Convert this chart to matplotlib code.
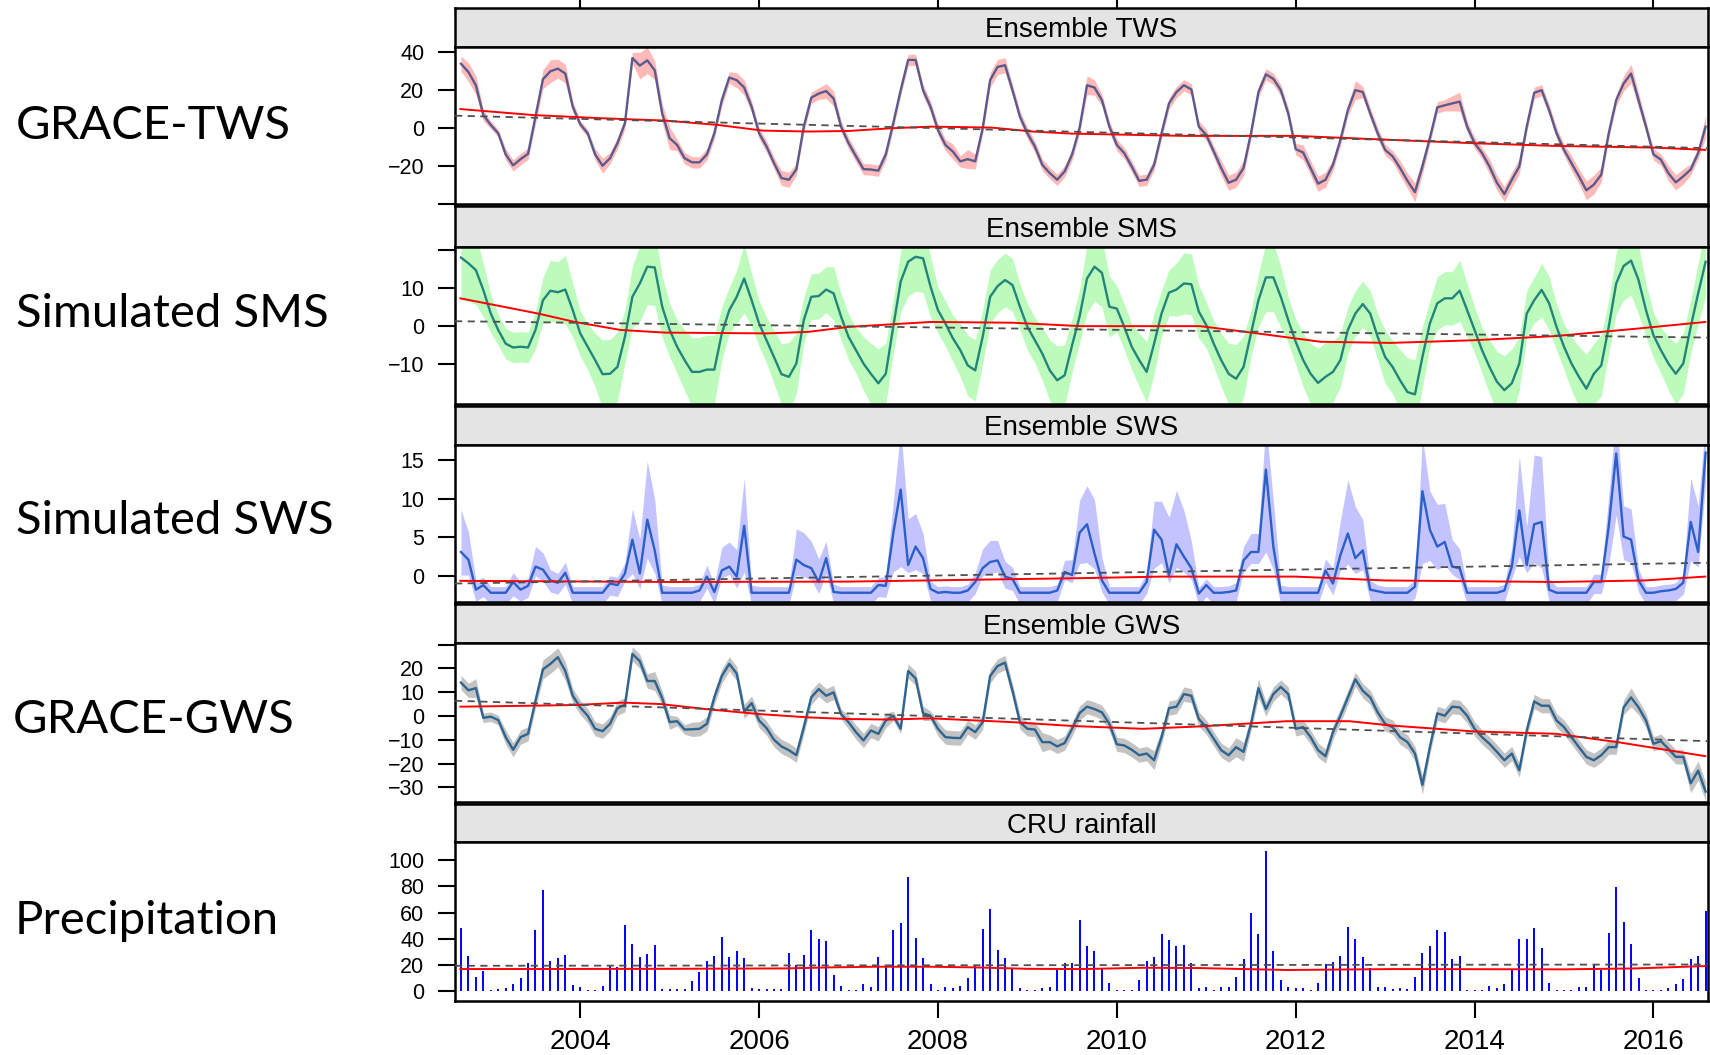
import numpy as np
import pandas as pd
import matplotlib
matplotlib.use("Agg")
import matplotlib.pyplot as plt

plt.rcParams['font.family'] = ['Liberation Sans', 'DejaVu Sans']

# monthly time axis, Sep 2002 - Aug 2016
months = pd.date_range("2002-09-01", periods=168, freq="MS")
t = np.array(months.year + (months.month - 1) / 12.0)

# ---- Ensemble TWS ----
tws = [34, 29.6, 22.6, 6.8, 1.6, -2.8, -14, -19.8, -16.5, -13.7, 6, 25.8,
       30, 31.4, 28.8, 11.2, 2, -2.8, -14, -20, -16, -8, 2.5, 37,
       33, 35.8, 30.5, 7.7, -5.4, -9, -16, -18.2, -18.2, -14, -2.8, 14.7,
       26.7, 25.3, 21.4, 11.2, -2.8, -9.8, -18.6, -26.5, -27.4, -22, 0.7, 16,
       18.2, 19.5, 15.6, 0.7, -8, -15, -21.8, -22, -22.6, -14, 2.5, 20,
       36, 36, 20, 11.2, -1, -9, -12.5, -17.7, -16.5, -17.7, -0.2, 25.3,
       32.3, 33.2, 20, 6, -2.8, -9.8, -19.5, -23.9, -27.4, -23, -14, 0,
       22.6, 21.4, 14.7, 0.7, -9, -13.3, -20.4, -28, -27.4, -19.5, -2.8, 13,
       19, 22.6, 20.4, 0.7, -3.7, -12.5, -21.2, -29, -27.4, -21.2, -2.8, 19,
       28.4, 26, 20, 7.7, -11.2, -13, -21.2, -29.5, -27.4, -19.5, -6.3, 9.5,
       20, 19, 7.7, -2.8, -11.6, -15, -21.2, -28, -34, -20.4, -5.4, 10.9,
       12, 13, 13.9, 0.7, -8, -13.3, -20.4, -29, -35, -27.4, -20.4, 0.7,
       18.6, 20, 9.5, -2.8, -11.6, -18.6, -25.6, -33, -30, -24.7, -2.8, 14.7,
       23.5, 28.8, 14.7, 0.7, -14, -16.8, -23.9, -28.8, -25.6, -22, -13.3, 0.7]
tws_spread = [4, 5, 5, 3, 2, 2, 3, 3, 3, 3, 4, 5,
              6, 5, 5, 3, 2, 2, 3, 4, 3, 3, 3, 3,
              7, 7, 5, 5, 6, 3, 3, 3, 3, 3, 3, 3,
              3, 4, 4, 3, 3, 3, 3, 4, 4, 3, 3, 3,
              3, 4, 4, 3, 3, 3, 3, 3, 3, 3, 3, 3,
              3, 3, 3, 3, 3, 3, 4, 3, 5, 4, 3, 4,
              4, 4, 3, 3, 3, 3, 3, 3, 3, 3, 3, 3,
              5, 4, 3, 3, 3, 3, 3, 3, 3, 3, 3, 3,
              3, 3, 3, 3, 3, 3, 4, 4, 4, 4, 3, 3,
              3, 3, 3, 3, 3, 4, 4, 4, 4, 3, 3, 3,
              5, 3, 3, 3, 3, 3, 4, 4, 5, 4, 3, 3,
              3, 4, 5, 3, 3, 3, 4, 4, 4, 4, 4, 3,
              3, 3, 3, 3, 3, 4, 4, 5, 5, 4, 3, 3,
              4, 5, 4, 3, 3, 3, 4, 4, 4, 3, 3, 6]
tws_smooth_t = [2002.66, 2003.48, 2004.26, 2004.95, 2005.54, 2006.04, 2006.55, 2007.0,
                2007.46, 2007.92, 2008.6, 2009.06, 2009.5, 2010.75, 2012.0, 2013.06,
                2014.0, 2014.9, 2016.0, 2016.58]
tws_smooth_v = [10, 6.8, 5.1, 3.9, 1.6, -1.4, -1.9, -1.6, -0.2, 0.7, 0.2, -1.9, -3.0,
                -4.2, -4.2, -6.3, -8.1, -9.5, -10.4, -11.6]
tws_trend = [6.5, -10.7]

# ---- Ensemble SMS ----
sms = [18, 16.5, 14.7, 9.5, 3.3, -1, -4.6, -5.6, -5.4, -5.6, -1, 6.8,
       9.3, 8.9, 9.6, 4.2, -1.9, -5.4, -8.9, -12.6, -12.5, -10.7, -2.8, 7.7,
       11.2, 15.6, 15.4, 5.1, -1, -5.4, -8.9, -12, -12, -11.4, -11.4, -1.9,
       4.2, 7.7, 12.5, 6.8, 0.7, -3.7, -8.1, -12.6, -13.3, -9.8, 1.6, 7.7,
       7.9, 9.6, 8.6, 2.5, -2.8, -6.3, -9.8, -12.5, -15, -12.5, -0.2, 11.7,
       16.9, 18.2, 17.8, 10.4, 4.2, 0.7, -3.2, -6.3, -10.3, -11.6, -2.8, 7.7,
       10.5, 12.1, 10.8, 5.1, -0.2, -3.7, -7.2, -11.6, -14.2, -12.9, -5, 2.5,
       12.5, 15.6, 14, 5.1, 4.6, -0.2, -5.4, -8.9, -12, -4.6, 3.3, 8.8,
       9.6, 11.2, 11, 3.8, 0.3, -4.6, -8.9, -12.5, -13.8, -10.7, -1.9, 6.8,
       12.8, 12.8, 7.7, 1.6, -4.1, -8.9, -12.5, -14.9, -13.3, -12, -8.9, -1,
       3.3, 5.8, 3.3, -2.8, -8.1, -10.7, -14.2, -17.3, -17.9, -8.1, 0.7, 6,
       7.3, 7.3, 9.3, 4.2, -1, -6.3, -10.7, -14.6, -16.8, -15, -9.8, 3.3,
       6.8, 9.5, 6, -0.2, -5.4, -9.8, -13.3, -16.4, -12.5, -10.3, -0.2, 11.2,
       15.8, 17.2, 12.1, 4.2, -2.4, -6.3, -9.8, -12.5, -9.8, -0.2, 8.6, 16.9]
sms_spread = [11, 10, 9, 7, 5, 4, 4, 4, 4, 4, 5, 6,
              8, 8, 9, 7, 6, 6, 7, 9, 9, 9, 7, 8,
              10, 10, 10, 8, 7, 7, 8, 9, 9, 9, 9, 7,
              6, 7, 9, 7, 6, 6, 7, 8, 9, 8, 6, 6,
              6, 6, 7, 6, 6, 6, 7, 8, 9, 8, 7, 8,
              9, 9, 9, 8, 6, 6, 6, 7, 8, 8, 7, 7,
              7, 7, 7, 6, 6, 6, 7, 8, 9, 8, 7, 7,
              9, 9, 9, 8, 6, 6, 6, 7, 8, 8, 6, 6,
              7, 8, 8, 7, 6, 6, 7, 8, 9, 8, 6, 7,
              9, 9, 8, 6, 6, 7, 8, 9, 9, 8, 7, 6,
              6, 6, 6, 6, 7, 7, 8, 9, 9, 8, 6, 7,
              7, 7, 8, 7, 6, 6, 7, 8, 9, 9, 7, 6,
              6, 7, 7, 6, 6, 7, 8, 9, 8, 8, 7, 8,
              9, 9, 9, 7, 6, 6, 7, 8, 8, 7, 8, 9]
sms_smooth_t = [2002.66, 2003.53, 2003.94, 2004.45, 2004.95, 2006.09, 2006.55, 2007.0,
                2007.92, 2008.83, 2009.6, 2010.93, 2011.44, 2012.28, 2013.06, 2013.99,
                2014.91, 2015.84, 2016.58]
sms_smooth_v = [7.3, 3.3, 1.1, -1, -1.7, -1.9, -1.5, -0.2, 1.1, 0.9, 0, 0, -1.5, -4.1,
                -4.4, -3.7, -2.6, -0.6, 1.1]
sms_trend = [1.3, -3.0]

# ---- Ensemble SWS ----
sws = [3.1, 2.1, -1.8, -1.2, -2.2, -2.2, -2.2, -0.8, -1.8, -1.3, 1.2, 0.8,
       -0.6, -0.9, 0.4, -2.2, -2.2, -2.2, -2.2, -2.2, -1, -1.2, 0.3, 4.7,
       0.3, 7.3, 3.3, -2.2, -2.2, -2.2, -2.2, -2.2, -1.9, -0.1, -2.1, 0.7,
       1.2, -0.1, 6.5, -2.2, -2.2, -2.2, -2.2, -2.2, -2.2, 2.1, 1.4, 1.0,
       -0.8, 2.3, -2.1, -2.2, -2.2, -2.2, -2.2, -2.2, -1.2, -1.3, 5.5, 11.2,
       1.4, 3.8, 2.3, -1.7, -2.2, -2.1, -2.2, -2.2, -1.9, -0.8, 1.0, 1.8,
       2.0, -0.1, -0.4, -2.2, -2.2, -2.2, -2.2, -2.2, -1.9, 0.5, 0.1, 5.6,
       6.7, 2.9, -0.6, -2.2, -2.2, -2.2, -2.2, -2.2, -0.8, 6, 4.7, 0.1,
       4.1, 2.5, 1.0, -2.3, -1.2, -2.2, -2.2, -2.1, -1.9, 2.0, 3.1, 3.1,
       13.8, 3.8, -2.2, -2.2, -2.2, -2.2, -2.2, -2.2, 0.7, -1, 2.7, 5.5,
       2.3, 3.3, -1.8, -2.0, -2.2, -2.2, -2.2, -2.2, -1.4, 11, 6, 3.8,
       4.4, 1.2, 1.0, -2.2, -2.2, -2.2, -2.2, -2.2, -1.9, 1.2, 8.5, 1.4,
       6.7, 7.0, -1.8, -2.2, -2.2, -2.2, -2.2, -2.2, -0.8, -0.8, 6.4, 15.9,
       5.1, 4.7, -0.6, -2.2, -2.2, -2.0, -1.9, -1.7, -0.9, 7.0, 3.1, 16]
sws_hi = [5.5, 3.6, 1.2, 1.0, 0.8, 0.8, 0.8, 1.2, 1.0, 1.0, 2.6, 2.2,
          1.4, 1.2, 1.4, 0.8, 0.8, 0.8, 0.8, 0.8, 1.0, 1.0, 1.4, 4.0,
          4.5, 7.6, 6.6, 1.0, 0.8, 0.8, 0.8, 0.8, 0.8, 1.5, 1.0, 3.0,
          3.2, 3.5, 6.2, 1.0, 0.8, 0.8, 0.8, 0.8, 0.8, 4.0, 4.2, 3.5,
          3.0, 2.2, 1.0, 0.8, 0.8, 0.8, 0.8, 0.8, 1.0, 1.2, 4.0, 8.0,
          6.0, 4.3, 3.2, 1.0, 0.8, 0.8, 0.8, 0.8, 0.8, 1.2, 2.5, 2.8,
          2.6, 2.0, 1.5, 0.8, 0.8, 0.8, 0.8, 0.8, 0.8, 1.5, 2.0, 4.2,
          5.0, 7.0, 3.0, 0.8, 0.8, 0.8, 0.8, 0.8, 1.2, 3.7, 5.0, 7.5,
          7.0, 6.0, 3.5, 0.8, 0.8, 0.8, 0.8, 0.8, 1.0, 1.8, 2.4, 2.4,
          6.0, 6.0, 1.0, 0.8, 0.8, 0.8, 0.8, 0.8, 1.5, 2.0, 4.5, 7.0,
          6.7, 4.0, 1.2, 0.8, 0.8, 0.8, 0.8, 0.8, 1.0, 7.0, 5.0, 5.5,
          5.0, 3.5, 2.5, 0.8, 0.8, 0.8, 0.8, 0.8, 0.8, 2.5, 7.0, 5.0,
          9.0, 8.5, 1.5, 0.8, 0.8, 0.8, 0.8, 0.8, 1.0, 1.0, 4.0, 5.0,
          4.0, 4.0, 1.5, 0.8, 0.8, 0.8, 0.8, 0.8, 1.2, 5.7, 6.0, 4.0]
sws_lo = [3, 2, 1.5, 1.5, 1.5, 1.5, 1.5, 1.8, 1.5, 1.5, 1.2, 1.5,
          1.5, 1.5, 1.5, 1.5, 1.5, 1.5, 1.5, 1.5, 1.5, 1.5, 1, 4.4,
          2, 5, 3, 1.5, 1.5, 1.5, 1.5, 1.5, 1.5, 1.5, 1.5, 1,
          1, 1.5, 6, 1.5, 1.5, 1.5, 1.5, 1.5, 1.5, 2, 1.5, 1.5,
          1.5, 2, 1.5, 1.5, 1.5, 1.5, 1.5, 1.5, 1.5, 1.5, 5, 10,
          1, 3, 2, 1.5, 1.5, 1.5, 1.5, 1.5, 1.5, 1.5, 1, 1.5,
          1.5, 1.5, 1.5, 1.5, 1.5, 1.5, 1.5, 1.5, 1.5, 1, 1, 4,
          5, 2, 1.5, 1.5, 1.5, 1.5, 1.5, 1.5, 1.5, 5, 3, 1,
          3, 2, 1.5, 1.5, 1.5, 1.5, 1.5, 1.5, 1.5, 1.5, 1.5, 1.5,
          10.7, 3, 1.5, 1.5, 1.5, 1.5, 1.5, 1.5, 1.5, 1.5, 2, 4,
          2, 2.5, 1.5, 1.5, 1.5, 1.5, 1.5, 1.5, 1.5, 9.4, 4, 3,
          3, 1, 1.5, 1.5, 1.5, 1.5, 1.5, 1.5, 1.5, 1.5, 6, 1,
          5, 6, 1.5, 1.5, 1.5, 1.5, 1.5, 1.5, 1.5, 1.5, 5, 8,
          3, 3, 1.5, 1.5, 1.5, 1.5, 1.5, 1.5, 1.5, 5, 2, 4]
sws_smooth_t = [2002.66, 2005.0, 2007.0, 2009.6, 2010.5, 2012.0, 2013.0, 2014.9, 2015.9, 2016.58]
sws_smooth_v = [-0.65, -0.8, -0.75, -0.3, -0.1, -0.1, -0.6, -0.8, -0.6, -0.1]
sws_trend = [-1.0, 1.7]

# ---- Ensemble GWS ----
gws = [14, 10.8, 11.7, -0.8, -0.3, -1.7, -8.9, -14.2, -8.9, -7.5, 6.4, 19.6,
       21.9, 24.7, 18.9, 8.5, 3.6, 0.1, -5.4, -6.4, -3.3, 3.3, 4.7, 26.1,
       23, 14.7, 14.7, 7.5, -2.6, -2.2, -5.7, -5.6, -5.4, -3.3, 7.8, 16.8,
       21.9, 17.8, 1.9, 5.4, -1.9, -5.1, -10, -12.8, -14.4, -16.5, -4.7, 7.8,
       11.3, 8.5, 9.9, 0.8, -2.6, -6.8, -10.3, -6.1, -7.5, -1.9, 0.1, -5.4,
       18.9, 15.8, 1.1, 0.1, -5.4, -8.9, -9.2, -9.3, -4.7, -6.8, -2.6, 16.8,
       21, 22.4, 10.6, -2.6, -5.4, -5.7, -11, -11, -12.8, -11.4, -5.4, 1.2,
       3.9, 2.9, 1.5, -3.3, -11.9, -12.4, -14.2, -16.5, -15.8, -18.6, -8.9, 3.3,
       3.9, 9.2, 8.5, -1.3, -4.7, -9.6, -14.4, -16.5, -13.1, -15.1, -3.3, 11.7,
       2.9, 9.2, 12.2, 9.2, -5.4, -4.7, -8.9, -14.4, -16.9, -6.8, 0.1, 7.8,
       15.4, 10.6, 7.8, 1.5, -3.3, -4.7, -8.9, -11, -15.8, -29, -13.1, 1.1,
       0.1, 3.9, 3.6, 0.1, -5.4, -8.9, -11.7, -15.1, -18.6, -15.8, -22.8, -6.1,
       6.1, 4.3, 4.3, -1.9, -4.7, -8.9, -13.1, -17.2, -18.6, -16.5, -13.1, -13.1,
       3.6, 7.8, 3.6, -1.9, -11.7, -10.6, -13.8, -17.2, -17.2, -28.3, -23, -31.8]
gws_spread = [3, 3, 4, 2, 2, 2, 3, 3, 3, 3, 3, 4,
              4, 4, 4, 3, 3, 3, 3, 3, 3, 3, 3, 3,
              3, 3, 4, 3, 3, 2, 2, 3, 3, 3, 3, 3,
              3, 3, 3, 3, 3, 3, 3, 3, 3, 3, 3, 3,
              3, 3, 3, 2, 3, 3, 3, 3, 3, 3, 2, 2,
              3, 3, 3, 2, 3, 3, 3, 3, 3, 3, 3, 3,
              3, 3, 3, 3, 3, 3, 4, 3, 3, 3, 3, 3,
              3, 3, 3, 3, 3, 3, 3, 3, 3, 4, 3, 3,
              3, 3, 3, 3, 3, 3, 3, 3, 4, 4, 3, 4,
              3, 3, 3, 3, 3, 3, 3, 3, 3, 3, 3, 3,
              3, 3, 3, 3, 3, 3, 3, 3, 3, 4, 3, 3,
              3, 3, 3, 3, 3, 3, 3, 3, 3, 3, 3, 3,
              3, 3, 3, 3, 3, 3, 3, 3, 3, 3, 3, 3,
              3, 4, 3, 3, 3, 3, 3, 3, 3, 4, 4, 4]
gws_smooth_t = [2002.66, 2003.44, 2003.94, 2004.49, 2004.9, 2005.4, 2006.0, 2006.55, 2007.0,
                2007.46, 2007.92, 2008.83, 2009.5, 2010.29, 2010.93, 2011.9, 2012.6,
                2013.06, 2013.99, 2014.91, 2015.6, 2016.58]
gws_smooth_v = [3.9, 4.3, 4.6, 5.6, 5, 2.9, 0.8, -0.6, -1.3, -1.5, -1, -2.6, -4.2, -5.4,
                -4.4, -2.2, -2.2, -4, -6.5, -7.5, -11, -16.9]
gws_trend = [6.4, -10.6]

# ---- CRU rainfall ----
rain = [48, 27, 11, 15.8, 1, 1.5, 2.3, 5.6, 10, 22, 47, 77,
        23.4, 25.4, 28, 4.8, 3.6, 1, 1, 4.3, 20, 18.8, 51, 36,
        26, 28.5, 35, 1.5, 1.5, 1.5, 1.5, 7.9, 15, 23.4, 27.2, 41.7,
        26, 30.8, 25.2, 2.3, 1.5, 1.5, 1.5, 1.5, 29, 20, 27.7, 46.8,
        39.7, 38.4, 12.5, 4, 1, 1, 5.6, 3, 26.5, 18.8, 46.8, 52.4,
        87.5, 40.5, 25.2, 5.6, 1, 3, 2.3, 4.3, 10, 20, 47.6, 62.8,
        31.6, 25.4, 17, 2.3, 1, 1, 2.3, 3.6, 16.8, 22, 22, 54.5,
        34.6, 30.8, 17.6, 6.6, 1, 1, 1, 8.7, 23.2, 26.5, 43.5, 39.2,
        34.6, 35.6, 21.4, 2.3, 3, 1, 3, 3, 11.2, 24.7, 59.5, 43.5,
        107, 30.8, 8.7, 3, 2.3, 2.3, 1, 6.6, 20.6, 22.6, 27, 48.9,
        39.7, 26.5, 18, 3, 3, 1.8, 2.3, 1.8, 10.7, 29, 34.6, 46.8,
        45.5, 24.4, 27, 1, 1, 1, 4.3, 2.3, 5.6, 16.3, 39.7, 40.2,
        48.6, 32.8, 6.6, 1, 1, 1, 3, 3, 20, 16.3, 44.3, 79.4,
        52.7, 36.1, 10, 1, 1, 1, 2.3, 5.6, 9.2, 24.7, 27, 61.3]
rain_smooth_t = [2002.66, 2005.0, 2006.3, 2006.8, 2007.3, 2007.9, 2008.4, 2009.0, 2009.6,
                 2010.3, 2010.9, 2011.9, 2013.1, 2015.0, 2015.8, 2016.58]
rain_smooth_v = [17, 17.2, 17.5, 18.3, 18.8, 18.8, 18.3, 17.2, 17, 18, 17.8, 16.3, 17,
                 16.8, 17.5, 19.3]
rain_trend = [19.5, 20.5]

xlim = (2002.60, 2016.61)
W, H = 1710, 1055
L, R = 455, 1708
strip_px = [(7.6, 46.9), (206.1, 246.5), (405.7, 445.0), (604.2, 643.4), (803.8, 841.9)]
bottom_px = [203.9, 403.5, 602.0, 801.6, 1001.2]

def rect(top, bottom):
    return [L / W, 1 - bottom / H, (R - L) / W, (bottom - top) / H]

fig = plt.figure(figsize=(W / 100, H / 100), dpi=100)

panels = [
    dict(title="Ensemble TWS", label="GRACE-TWS", lab_x=16, lab_y=139,
         ylim=(-40.2, 42.9), yticks=[-40, -20, 0, 20, 40], ylabels=["", "\u221220", "0", "20", "40"],
         val=tws, lo=np.array(tws) - np.array(tws_spread), hi=np.array(tws) + np.array(tws_spread),
         line="#5a5a8c", band="#ffb9b9", st=tws_smooth_t, sv=tws_smooth_v, trend=tws_trend),
    dict(title="Ensemble SMS", label="Simulated SMS", lab_x=16, lab_y=327,
         ylim=(-20.3, 20.9), yticks=[-10, 0, 10, 20], ylabels=["\u221210", "0", "10", ""],
         val=sms, lo=np.array(sms) - np.array(sms_spread), hi=np.array(sms) + np.array(sms_spread),
         line="#23857a", band="#bdfbbd", st=sms_smooth_t, sv=sms_smooth_v, trend=sms_trend),
    dict(title="Ensemble SWS", label="Simulated SWS", lab_x=16, lab_y=534,
         ylim=(-3.4, 17.0), yticks=[0, 5, 10, 15], ylabels=["0", "5", "10", "15"],
         val=sws, lo=np.array(sws) - np.array(sws_lo), hi=np.array(sws) + np.array(sws_hi),
         line="#2b5fc9", band="#c3c3ff", st=sws_smooth_t, sv=sws_smooth_v, trend=sws_trend),
    dict(title="Ensemble GWS", label="GRACE-GWS", lab_x=13, lab_y=733,
         ylim=(-36, 30.5), yticks=[-30, -20, -10, 0, 10, 20, 30],
         ylabels=["\u221230", "\u221220", "\u221210", "0", "10", "20", ""],
         val=gws, lo=np.array(gws) - np.array(gws_spread), hi=np.array(gws) + np.array(gws_spread),
         line="#2d6490", band="#c3c3c3", st=gws_smooth_t, sv=gws_smooth_v, trend=gws_trend),
    dict(title="CRU rainfall", label="Precipitation", lab_x=15, lab_y=934,
         ylim=(-7.5, 114), yticks=[0, 20, 40, 60, 80, 100],
         ylabels=["0", "20", "40", "60", "80", "100"],
         val=rain, lo=None, hi=None, line="#0000ff", band=None,
         st=rain_smooth_t, sv=rain_smooth_v, trend=rain_trend),
]

for k, p in enumerate(panels):
    s_top, s_bot = strip_px[k]
    # strip with title
    sax = fig.add_axes(rect(s_top, s_bot))
    sax.set_facecolor("#e4e4e4")
    sax.set_xlim(xlim)
    sax.set_yticks([])
    sax.text(0.5, 0.42, p["title"], transform=sax.transAxes, ha="center", va="center",
             fontsize=20)
    for sp in sax.spines.values():
        sp.set_linewidth(1.8)
    if k == 0:
        sax.set_xticks([2004, 2006, 2008, 2010, 2012, 2014, 2016])
        sax.tick_params(axis="x", top=True, bottom=False, labeltop=False, labelbottom=False,
                        direction="out", length=12, width=1.5)
    else:
        sax.set_xticks([])

    ax = fig.add_axes(rect(s_bot, bottom_px[k]))
    ax.set_xlim(xlim)
    ax.set_ylim(p["ylim"])
    if p["band"] is not None:
        ax.fill_between(t, p["lo"], p["hi"], color=p["band"], lw=0, zorder=1)
        ax.plot(t, p["val"], color=p["line"], lw=1.7, zorder=3)
    else:
        ax.vlines(t, 0, p["val"], color=p["line"], lw=1.4, zorder=3)
    ax.plot(p["st"], p["sv"], color="red", lw=1.4, zorder=4)
    ax.plot(xlim, p["trend"], color="#505050", lw=1.3, ls=(0, (4, 3)), zorder=4)

    ax.set_yticks(p["yticks"])
    ax.set_yticklabels(p["ylabels"])
    ax.tick_params(axis="y", direction="out", length=12, width=1.5, pad=10, labelsize=15.5)
    if k == len(panels) - 1:
        ax.set_xticks([2004, 2006, 2008, 2010, 2012, 2014, 2016])
        ax.tick_params(axis="x", direction="out", length=12, width=1.5, pad=8, labelsize=20)
    else:
        ax.set_xticks([])
    for sp in ax.spines.values():
        sp.set_linewidth(1.8)

    # big label at the left
    fig.text(p["lab_x"] / W, 1 - p["lab_y"] / H, p["label"], ha="left", va="baseline",
             fontsize=34, family=["Lato", "DejaVu Sans"])

fig.savefig("out.png", dpi=100)
plt.close(fig)
